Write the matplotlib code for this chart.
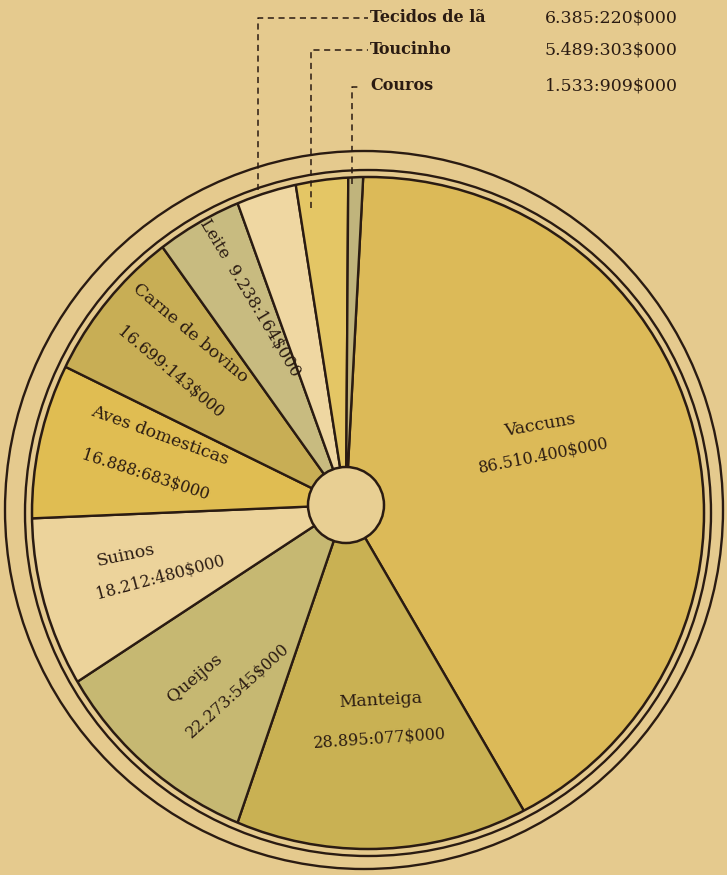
import matplotlib
matplotlib.use("Agg")
import matplotlib.pyplot as plt
from matplotlib.patches import Circle

# Value of animal products (contos de réis)
categories = ["Vaccuns", "Manteiga", "Queijos", "Suinos", "Aves domesticas",
              "Carne de bovino", "Leite", "Tecidos de lã", "Toucinho", "Couros"]
values = [86510.400, 28895.077, 22273.545, 18212.480, 16888.683,
          16699.143, 9238.164, 6385.220, 5489.303, 1533.909]
value_labels = ["86.510.400$000", "28.895:077$000", "22.273:545$000",
                "18.212:480$000", "16.888:683$000", "16.699:143$000",
                "9.238:164$000", "6.385:220$000", "5.489:303$000",
                "1.533:909$000"]

W, H = 727, 875
BG = "#e5ca8e"
INK = "#2a1b12"
colors = ["#dcba58", "#c9b153", "#c6b872", "#ecd39b", "#e0bd52",
          "#c8ae55", "#c8bb80", "#efd7a2", "#e4c665", "#c0b47c"]

def Y(py):
    return H - py

fig = plt.figure(figsize=(W / 100, H / 100), dpi=100)
fig.patch.set_facecolor(BG)
ax = fig.add_axes([0, 0, 1, 1])
ax.set_facecolor(BG)

# disc of the chart and the hub the sectors radiate from
disc_c, disc_r = (368, Y(513)), 336
hub_c, hub_r = (346, Y(505)), 38

wedges, _ = ax.pie(values, colors=colors, startangle=87, counterclock=False,
                   center=hub_c, radius=372, frame=True,
                   wedgeprops=dict(edgecolor=INK, linewidth=1.7))
disc = Circle(disc_c, disc_r, transform=ax.transData)
for w in wedges:
    w.set_clip_on(True)
    w.set_clip_path(disc)

# disc outline and double border rings
ax.add_patch(Circle(disc_c, disc_r, fill=False, edgecolor=INK, lw=1.8))
ax.add_patch(Circle(disc_c, disc_r + 7, fill=False, edgecolor=INK, lw=1.7))
ax.add_patch(Circle((364, Y(510)), 359, fill=False, edgecolor=INK, lw=1.7))

# central hub
ax.add_patch(Circle(hub_c, hub_r, facecolor="#e8cf93",
                    edgecolor=INK, lw=1.8, zorder=3))

serif = "DejaVu Serif"

def label(x, y, s, rot, size=12):
    ax.text(x, Y(y), s, rotation=rot, ha="center", va="center",
            rotation_mode="anchor", fontsize=size, family=serif,
            color=INK, zorder=4)

def name(x, y, s, rot):
    label(x, y, s, rot, 12.5)

def amount(x, y, s, rot):
    label(x, y, s, rot, 11.5)

name(540, 425, categories[0], 10)
amount(544, 455, value_labels[0], 11)
name(380, 700, categories[1], 3)
amount(380, 738, value_labels[1], 4)
name(195, 678, categories[2], 40)
amount(238, 690, value_labels[2], 42)
name(126, 555, categories[3], 12)
amount(160, 577, value_labels[3], 15)
name(160, 436, categories[4], -20)
amount(145, 475, value_labels[4], -18)
name(190, 333, categories[5], -40)
amount(170, 372, value_labels[5], -40)
label(250, 298, categories[6] + "  " + value_labels[6], -59, 12)

# small sectors: dashed leaders to the list at the top
leaders = [
    ([258, 258, 368], [190, 18, 18]),
    ([311, 311, 368], [208, 50, 50]),
    ([352, 352, 358], [184, 87, 87]),
]
rows_y = [18, 50, 86]
for (xs, ys), nm, val, ty in zip(leaders, categories[7:], value_labels[7:], rows_y):
    ax.plot(xs, [Y(v) for v in ys], color=INK, lw=1.1, ls=(0, (4, 3)), zorder=4)
    ax.text(370, Y(ty), nm, ha="left", va="center", fontsize=11.5,
            family=serif, fontweight="bold", color=INK)
    ax.text(545, Y(ty), val, ha="left", va="center", fontsize=12.5,
            family=serif, color=INK)

ax.set_xlim(0, W)
ax.set_ylim(0, H)
ax.set_aspect("equal")
ax.axis("off")
fig.savefig("out.png", dpi=100, facecolor=BG)
